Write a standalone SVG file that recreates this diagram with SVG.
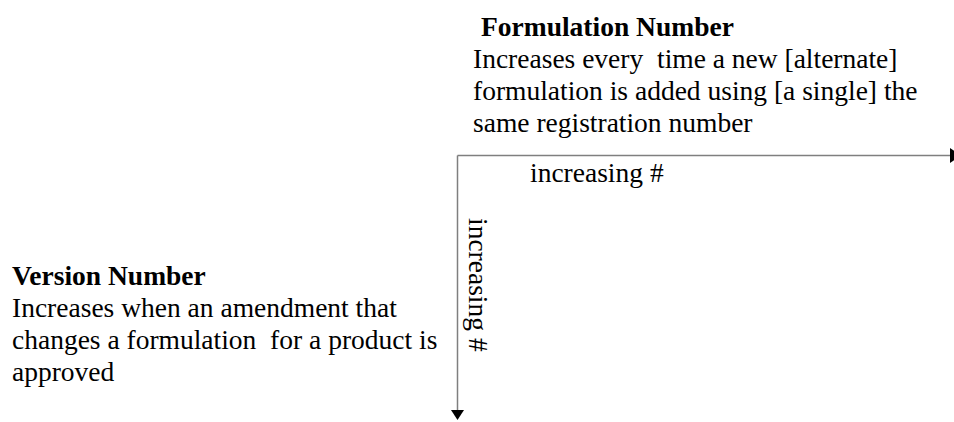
<svg xmlns="http://www.w3.org/2000/svg" width="954" height="422" viewBox="0 0 954 422">
<style>
text{font-family:"Liberation Serif","Times New Roman",serif;font-size:27.5px;fill:#000}
.b{font-weight:bold}
.ax{stroke:#7f7f7f;stroke-width:1.5;fill:none}
.ah{fill:#000}
</style>
<rect width="954" height="422" fill="#fff"/>
<g id="formulation-number">
<text class="b" x="481" y="36">Formulation Number</text>
<text x="473" y="68" xml:space="preserve">Increases every  time a new [alternate]</text>
<text x="473" y="100">formulation is added using [a single] the</text>
<text x="473" y="132">same registration number</text>
</g>
<g id="version-number">
<text class="b" x="12" y="285">Version Number</text>
<text x="12" y="317">Increases when an amendment that</text>
<text x="12" y="349" xml:space="preserve">changes a formulation  for a product is</text>
<text x="12" y="381">approved</text>
</g>
<g id="connectors">
<path class="ax" d="M457.5,155.5 H950"/>
<path class="ah" d="M950,148 L961,155.5 L950,163 Z"/>
<path class="ax" d="M457.5,155.5 V411"/>
<path class="ah" d="M451,410 L464,410 L457.5,420 Z"/>
<text x="530" y="182">increasing #</text>
<text transform="translate(469,218) rotate(90)">increasing #</text>
</g>
</svg>
